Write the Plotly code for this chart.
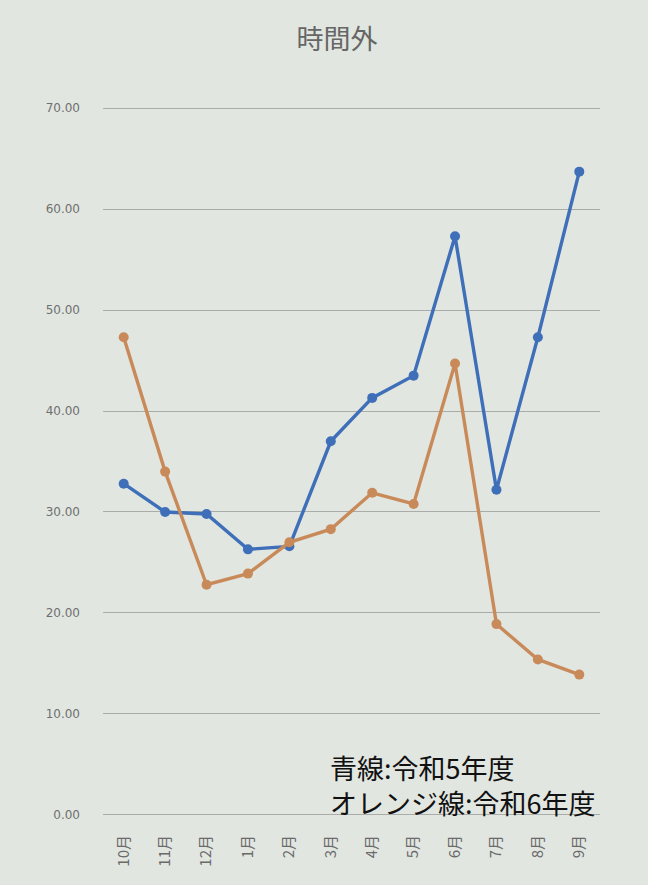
import plotly.graph_objects as go

months = ["10月", "11月", "12月", "1月", "2月", "3月", "4月", "5月", "6月", "7月", "8月", "9月"]
r5_blue = [32.8, 30.0, 29.8, 26.3, 26.6, 37.0, 41.3, 43.5, 57.3, 32.2, 47.3, 63.7]
r6_orange = [47.3, 34.0, 22.8, 23.9, 27.0, 28.3, 31.9, 30.8, 44.7, 18.9, 15.4, 13.9]
y_ticks = [0, 10, 20, 30, 40, 50, 60, 70]
note_lines = ["青線:令和5年度", "オレンジ線:令和6年度"]

bg = "#e2e6e1"
fig = go.Figure()
fig.add_trace(go.Scatter(
    x=months, y=r5_blue, mode="lines+markers", name="令和5年度",
    line=dict(color="#3e6fb8", width=3.4), marker=dict(color="#3e6fb8", size=10)))
fig.add_trace(go.Scatter(
    x=months, y=r6_orange, mode="lines+markers", name="令和6年度",
    line=dict(color="#c98a5a", width=3.4), marker=dict(color="#c98a5a", size=10)))

fig.update_layout(
    width=648, height=885,
    paper_bgcolor=bg, plot_bgcolor=bg,
    margin=dict(l=103, r=48, t=104, b=66),
    showlegend=False,
    title=dict(text="時間外", x=0.52, xanchor="center", y=0.955, yanchor="middle",
               font=dict(family="Noto Sans CJK JP", size=27, color="#666666")),
    xaxis=dict(type="category", range=[-0.5, 11.5], tickangle=-90, showgrid=False, zeroline=False,
               showline=False, ticks="", ticklabelstandoff=12,
               tickfont=dict(family="Noto Sans CJK JP", size=15, color="#6a6a6a")),
    yaxis=dict(range=[-0.4, 70.4], tickvals=y_ticks, tickformat=".2f", showgrid=True,
               gridcolor="#a9aca8", gridwidth=1.2, zeroline=False, showline=False, ticks="",
               ticklabelstandoff=22,
               tickfont=dict(family="DejaVu Sans", size=12, color="#6f6f6f")),
    annotations=[
        dict(text="<br>".join(note_lines), xref="paper", yref="paper", x=0.452, y=0.047,
             xanchor="left", yanchor="middle", align="left", showarrow=False,
             font=dict(family="Noto Sans CJK JP", size=27, color="#111111")),
    ],
)
fig.write_html("out.html")
